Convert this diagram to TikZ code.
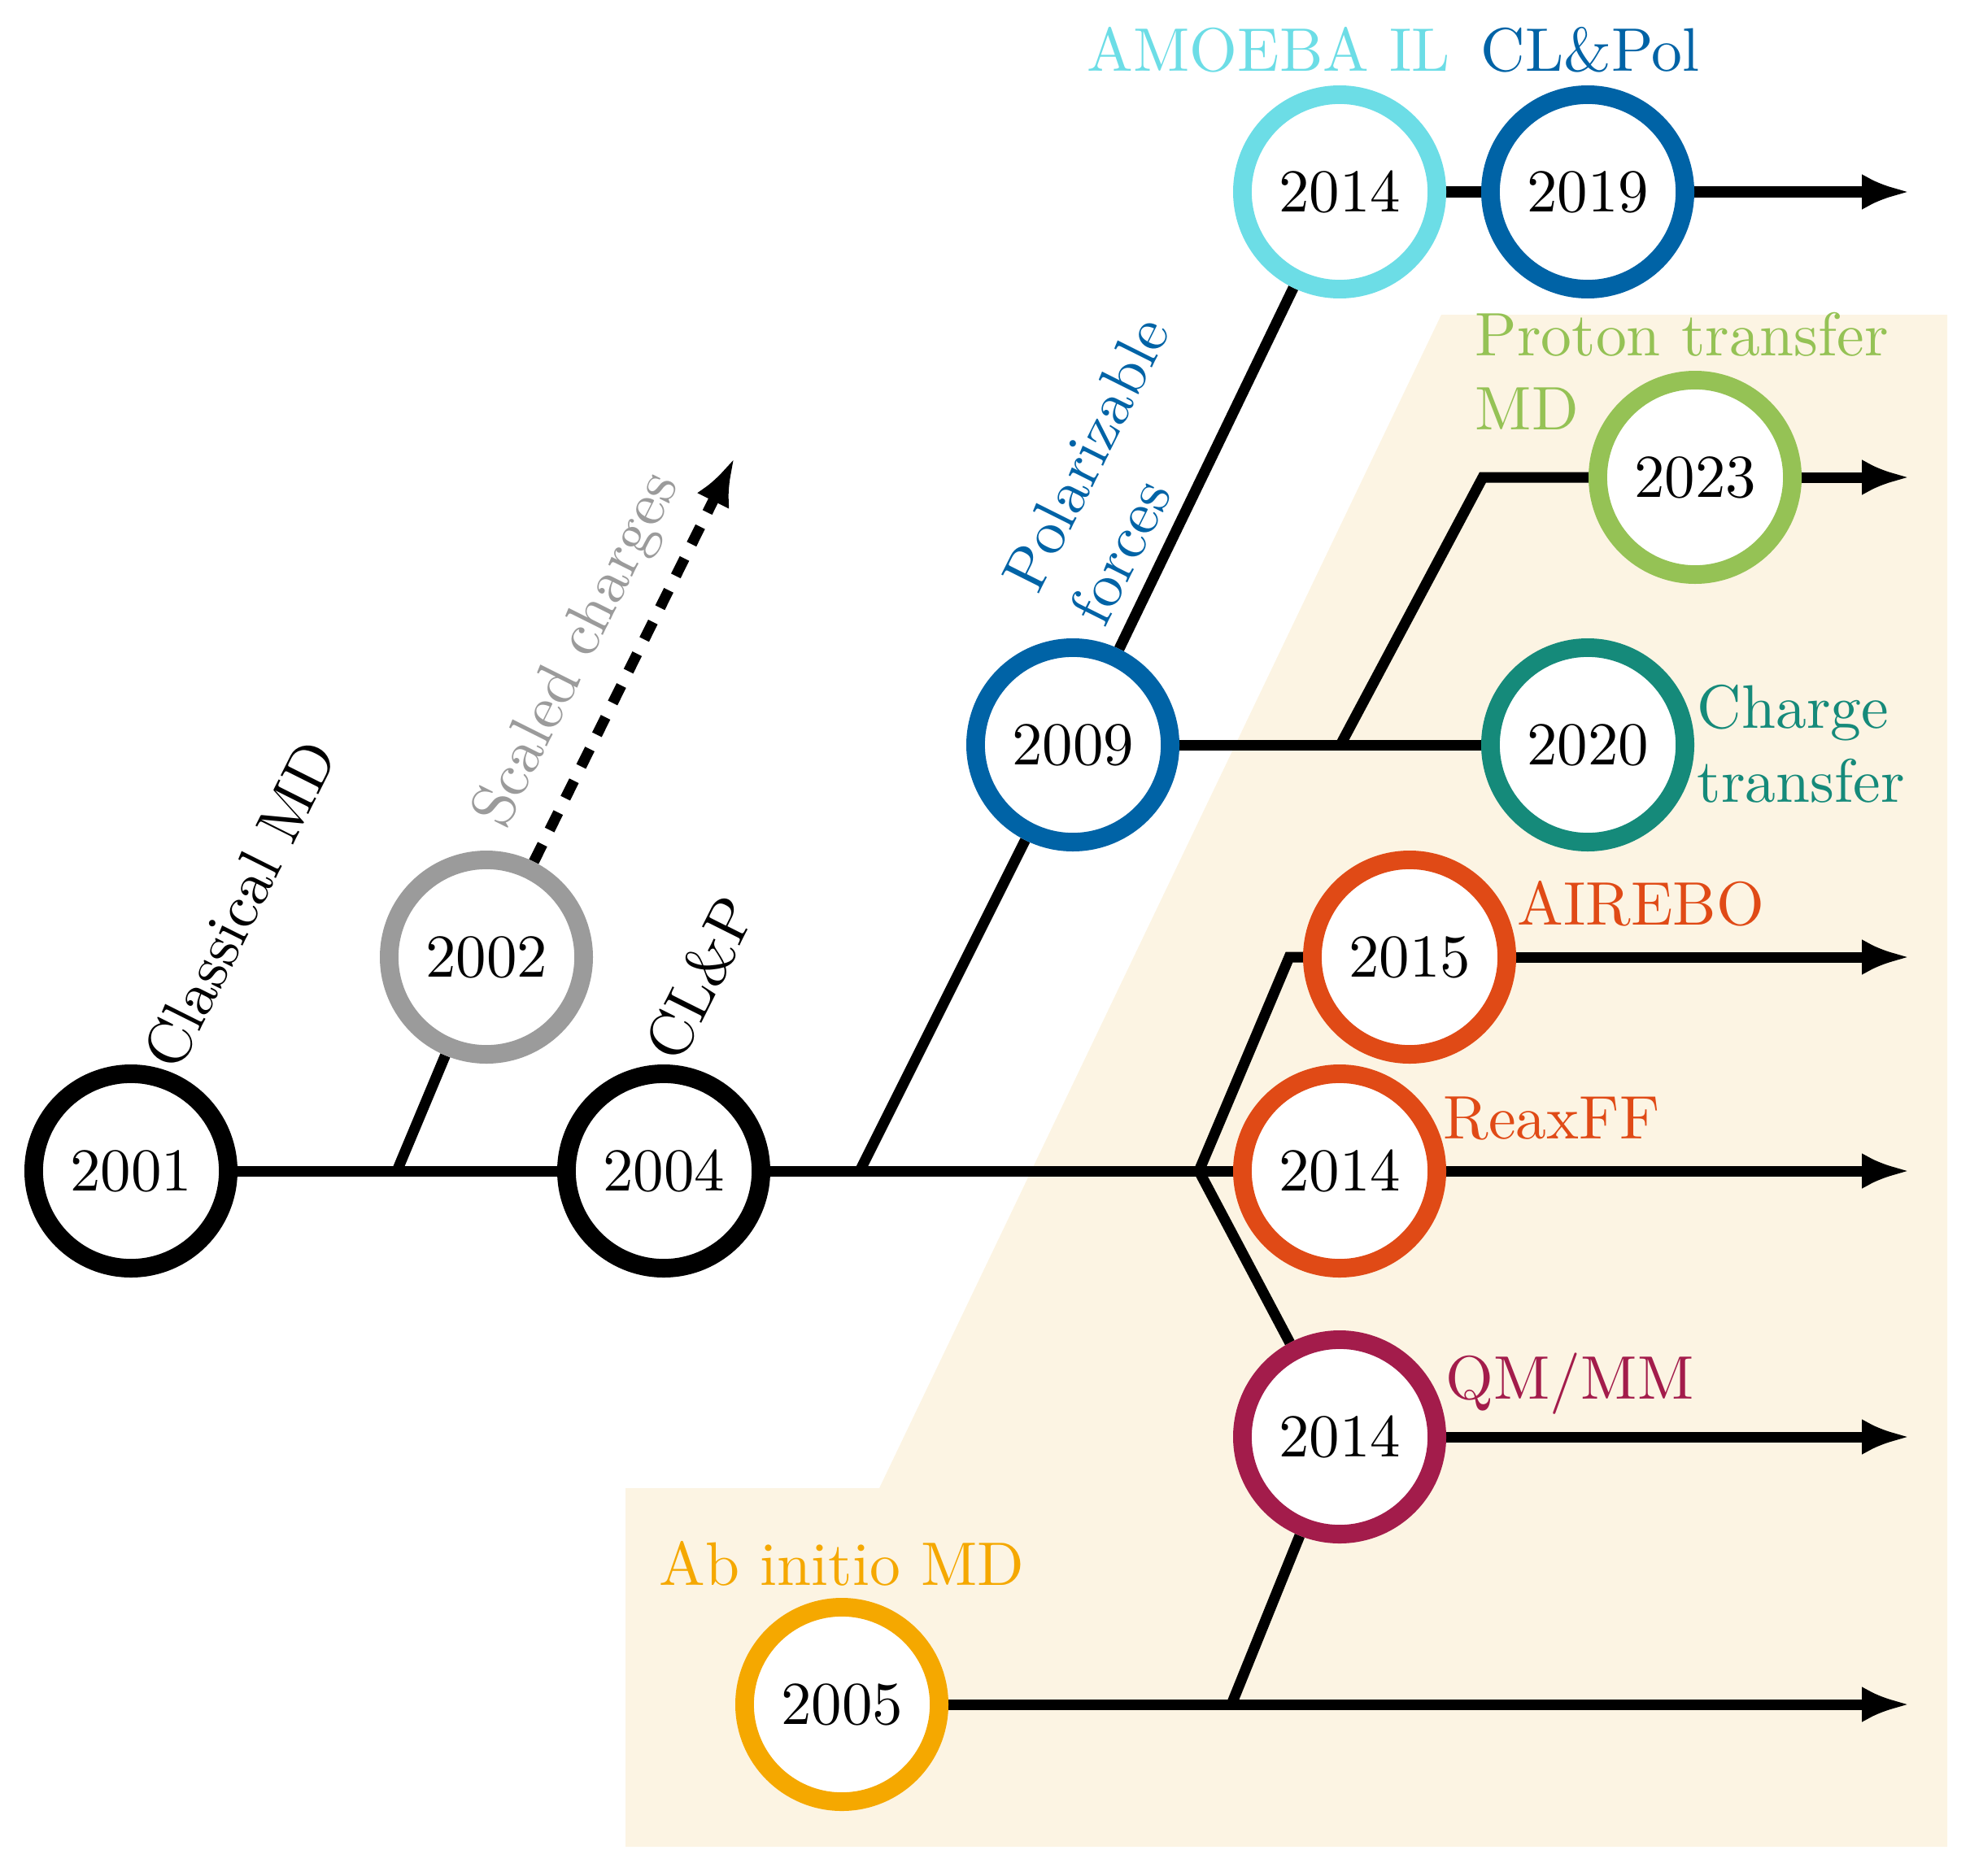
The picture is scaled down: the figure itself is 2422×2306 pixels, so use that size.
\documentclass[tikz,border=0pt]{standalone}
\usepackage{fontspec}
\setmainfont{lmroman10-regular.otf}
\usetikzlibrary{arrows.meta}
\pgfdeclarelayer{bg}
\pgfdeclarelayer{lines}
\pgfsetlayers{bg,lines,main}
\definecolor{cbeige}{HTML}{FCF4E3}
\definecolor{cgrey}{HTML}{9B9B9B}
\definecolor{cblue}{HTML}{0063A6}
\definecolor{ccyan}{HTML}{6CDDE6}
\definecolor{cgreen}{HTML}{95C255}
\definecolor{cteal}{HTML}{158A7A}
\definecolor{corange}{HTML}{E04A16}
\definecolor{ccrimson}{HTML}{A31C4B}
\definecolor{camber}{HTML}{F5A800}
\begin{document}
\begin{tikzpicture}[x=0.01cm,y=-0.01cm,
  yr/.style={circle, draw=#1, line width=6.5pt, fill=white, minimum size=2.39cm, inner sep=0pt,
    font=\fontsize{21.3}{26}\selectfont},
  conn/.style={line width=3.7pt, draw=black},
  arr/.style={conn, -{Latex[length=5.9mm,width=4.4mm]}},
  dasharr/.style={line width=3.7pt, draw=black, dash pattern=on 6.8pt off 5.6pt, -{Latex[length=5.9mm,width=4.4mm]}},
  lbl/.style={inner sep=0pt, font=\fontsize{21.5}{26}\selectfont},
]
\useasboundingbox (0,0) rectangle (2422,2306);
\begin{pgfonlayer}{bg}
  \fill[cbeige] (769,1830) -- (1081,1830) -- (1772,387) -- (2394,387) -- (2394,2271) -- (769,2271) -- cycle;
\end{pgfonlayer}

% year nodes
\node[yr=black]    (a2001)  at (161,1440) {2001};
\node[yr=black]    (a2004)  at (816,1440) {2004};
\node[yr=cgrey]    (a2002)  at (598,1177) {2002};
\node[yr=cblue]    (a2009)  at (1319,916) {2009};
\node[yr=ccyan]    (a2014a) at (1647,236) {2014};
\node[yr=cblue]    (a2019)  at (1952,236) {2019};
\node[yr=cgreen]   (a2023)  at (2084,587) {2023};
\node[yr=cteal]    (a2020)  at (1952,916) {2020};
\node[yr=corange]  (a2015)  at (1733,1177) {2015};
\node[yr=corange]  (a2014b) at (1647,1440) {2014};
\node[yr=ccrimson] (a2014c) at (1647,1767) {2014};
\node[yr=camber]   (a2005)  at (1035,2096) {2005};

% junctions and free ends
\coordinate (j1) at (488,1440);
\coordinate (j2) at (1057,1440);
\coordinate (j3) at (1474,1440);
\coordinate (k3) at (1585,1177);
\coordinate (j4) at (1648,916);
\coordinate (k4) at (1823,587);
\coordinate (j5) at (1514,2096);
\coordinate (e1) at (2348,236);
\coordinate (e2) at (2348,587);
\coordinate (e3) at (2348,1177);
\coordinate (e4) at (2348,1440);
\coordinate (e5) at (2348,1767);
\coordinate (e6) at (2348,2096);
\coordinate (d1) at (903,563);

\begin{pgfonlayer}{lines}
  \draw[conn] (a2001) -- (a2004);
  \draw[conn] (j1) -- (a2002);
  \draw[dasharr] (a2002) -- (d1);
  \draw[conn] (a2004) -- (a2014b);
  \draw[conn] (j2) -- (a2009);
  \draw[conn] (a2009) -- (a2014a);
  \draw[conn] (a2014a) -- (a2019);
  \draw[arr] (a2019) -- (e1);
  \draw[conn] (a2009) -- (a2020);
  \draw[conn] (j4) -- (k4) -- (a2023);
  \draw[arr] (a2023) -- (e2);
  \draw[conn] (j3) -- (k3) -- (a2015);
  \draw[arr] (a2015) -- (e3);
  \draw[arr] (a2014b) -- (e4);
  \draw[conn] (j3) -- (a2014c);
  \draw[arr] (a2014c) -- (e5);
  \draw[arr] (a2005) -- (e6);
  \draw[conn] (j5) -- (a2014c);
\end{pgfonlayer}

% labels
\node[lbl, rotate=63.4] (l2001) at (295,1112) {Classical MD};
\node[lbl, rotate=63.4, text=cgrey] (l2002) at (711,800) {Scaled charges};
\node[lbl, rotate=63.4] (l2004) at (861,1203) {CL\&P};
\node[lbl, rotate=63.4, text=cblue, align=left] (l2009) at (1376,578) {Polarizable\\forces};
\node[lbl, text=ccyan, anchor=base] (l2014a) at (1560,88) {AMOEBA IL};
\node[lbl, text=cblue, anchor=base] (l2019) at (1955,88) {CL\&Pol};
\node[lbl, text=cgreen, align=left, anchor=north west] (l2023) at (1813,383) {Proton transfer\\MD};
\node[lbl, text=cteal, align=left, anchor=north west] (l2020) at (2086,841) {Charge\\transfer};
\node[lbl, text=corange, anchor=base west] (l2015) at (1865,1137) {AIREBO};
\node[lbl, text=corange, anchor=base west] (l2014b) at (1774,1400) {ReaxFF};
\node[lbl, text=ccrimson, anchor=base west] (l2014c) at (1777,1720) {QM/MM};
\node[lbl, text=camber, anchor=base] (l2005) at (1035,1949) {Ab initio MD};
\end{tikzpicture}
\end{document}
